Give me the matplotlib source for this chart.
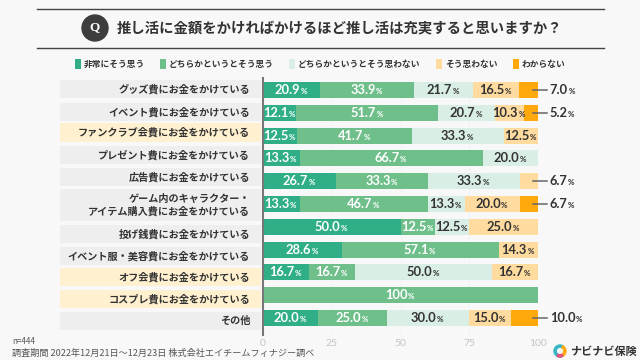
import numpy as np
from matplotlib import pyplot as plt
from matplotlib.patches import Circle, Wedge

plt.rcParams["font.family"] = ["Noto Sans CJK JP", "DejaVu Sans"]

categories = ["グッズ費にお金をかけている", "イベント費にお金をかけている",
              "ファンクラブ会費にお金をかけている", "プレゼント費にお金をかけている",
              "広告費にお金をかけている", "ゲーム内のキャラクター・\nアイテム購入費にお金をかけている",
              "投げ銭費にお金をかけている", "イベント服・美容費にお金をかけている",
              "オフ会費にお金をかけている", "コスプレ費にお金をかけている", "その他"]
series_names = ["非常にそう思う", "どちらかというとそう思う", "どちらかというとそう思わない",
                "そう思わない", "わからない"]
very = [20.9, 12.1, 12.5, 13.3, 26.7, 13.3, 50.0, 28.6, 16.7, 0, 20.0]
rather = [33.9, 51.7, 41.7, 66.7, 33.3, 46.7, 12.5, 57.1, 16.7, 100, 25.0]
rather_not = [21.7, 20.7, 33.3, 20.0, 33.3, 13.3, 12.5, 0, 50.0, 0, 30.0]
not_at_all = [16.5, 10.3, 12.5, 0, 6.7, 20.0, 25.0, 14.3, 16.7, 0, 15.0]
unknown = [7.0, 5.2, 0, 0, 0, 6.7, 0, 0, 0, 0, 10.0]
x_ticks = [0, 25, 50, 75, 100]
highlighted = [2, 8, 9]

colors = ["#2fae87", "#6fbf8b", "#d9eee5", "#ffdb9f", "#ffa90d"]
BG = "#f8f8f8"
DARK = "#333333"
W, H = 640, 360

# row centres and heights in pixels of the 640x360 picture
row_y = [90, 113, 136, 158, 181, 204, 227, 250, 272, 295, 318]
bar_h = [16] * 11
lab_y = [89, 112, 132, 155, 177, 205, 234, 256, 277, 299, 321]
lab_h = [18, 18, 19, 18, 18, 32, 18, 18, 18, 18, 18]

fig = plt.figure(figsize=(W / 100, H / 100), dpi=100, facecolor=BG)

# overlay in pixel coordinates for header, legend and footer
bg = fig.add_axes([0, 0, 1, 1])
bg.set_xlim(0, W)
bg.set_ylim(H, 0)
bg.axis("off")

# plot area: x in percent, y in picture pixels
left, right, top, bottom = 263, 538, 78, 335
ax = fig.add_axes([left / W, 1 - bottom / H, (right - left) / W, (bottom - top) / H])
ax.set_facecolor("none")
ax.set_xlim(0, 100)
ax.set_ylim(bottom, top)

# header
for y in (9, 48):
    bg.plot([37, 604], [y, y], color="#444444", lw=1)
bg.add_patch(Circle((95, 28), 13, color="#3d3d3d"))
bg.text(95, 27.5, "Q", color="white", fontsize=9.5, fontweight="bold",
        family="Liberation Serif", ha="center", va="center")
bg.text(117, 28, "推し活に金額をかければかけるほど推し活は充実すると思いますか？",
        fontsize=10.35, fontweight="bold", color=DARK, va="center")

# legend
leg_sq = [75, 160, 289, 436, 513]
for x0, name, c in zip(leg_sq, series_names, colors):
    bg.fill_between([x0, x0 + 6], 59, 69, color=c, lw=0)
    bg.text(x0 + 9, 64, name, fontsize=6.3, fontweight="bold", color=DARK, va="center")

# category label strips
for i, name in enumerate(categories):
    c = "#fff0cf" if i in highlighted else "#eeeeee"
    bg.fill_between([60, 261], lab_y[i] - lab_h[i] / 2, lab_y[i] + lab_h[i] / 2, color=c, lw=0)
    bg.text(250, lab_y[i], name, fontsize=7.3, fontweight="bold", color=DARK,
            ha="right", va="center", linespacing=1.25)

# grid, bars
for t in x_ticks[1:]:
    ax.axvline(t, color="#e6e6e6", lw=0.6, ls=":", zorder=0)


def pct_label(x, y, value, color, ha="center"):
    s = "100" if value == 100 else f"{value:.1f}"
    shift = -3 if ha == "center" else 0
    num = ax.annotate(s, (x, y), xytext=(shift, 0), textcoords="offset points", ha=ha,
                      va="center", fontsize=9.3, fontweight="bold", color=color,
                      family="Lato", annotation_clip=False)
    ax.annotate("%", xy=(1, 0), xycoords=num, xytext=(0.3, 1), textcoords="offset points",
                ha="left", va="bottom", fontsize=5.8, fontweight="bold", color=color, family="Lato")


series = np.array([very, rather, rather_not, not_at_all, unknown])
starts = np.vstack([np.zeros(len(categories)), np.cumsum(series, axis=0)[:-1]])
for j in range(5):
    ax.barh(row_y, series[j], left=starts[j], height=bar_h, color=colors[j], lw=0, zorder=2)

for i in range(len(categories)):
    for j in range(5):
        v = series[j, i]
        if v == 0:
            continue
        outside = j == 4 or (i == 4 and j == 3)
        if outside:
            ax.plot([98.3, 103.3], [row_y[i] - 0.5] * 2, color="#666666", lw=1.1, zorder=3, clip_on=False)
            pct_label(104.3, row_y[i], v, DARK, ha="left")
        else:
            pct_label(starts[j, i] + v / 2, row_y[i], v, "white" if j < 2 else DARK)

# axis
for s in ("top", "right", "bottom"):
    ax.spines[s].set_visible(False)
ax.spines["left"].set_color("#777777")
ax.spines["left"].set_linewidth(1.5)
ax.set_yticks([])
ax.set_xticks(x_ticks)
ax.set_xticklabels([str(t) for t in x_ticks], family="Lato", fontsize=7.5, color="#c4c4c4")
ax.tick_params(axis="x", length=0, pad=3)

# footer
bg.text(12, 341, "n=444", fontsize=5.8, color="#555555", va="center")
bg.text(12, 353, "調査期間 2022年12月21日～12月23日 株式会社エイチームフィナジー調べ",
        fontsize=6.55, color="#555555", va="center")

# logo
bg.add_patch(Wedge((560, 351), 6, 60, 300, width=2.2, color="#37b6c4"))
bg.add_patch(Wedge((560, 351), 6, -60, 60, width=2.2, color="#ffa90d"))
bg.add_patch(Wedge((560, 351), 6, 60, 120, width=2.2, color="#e8527a"))
bg.text(570, 351, "ナビナビ保険", fontsize=8, fontweight="bold", color=DARK, va="center")

fig.savefig("out.png", dpi=100, facecolor=BG)
